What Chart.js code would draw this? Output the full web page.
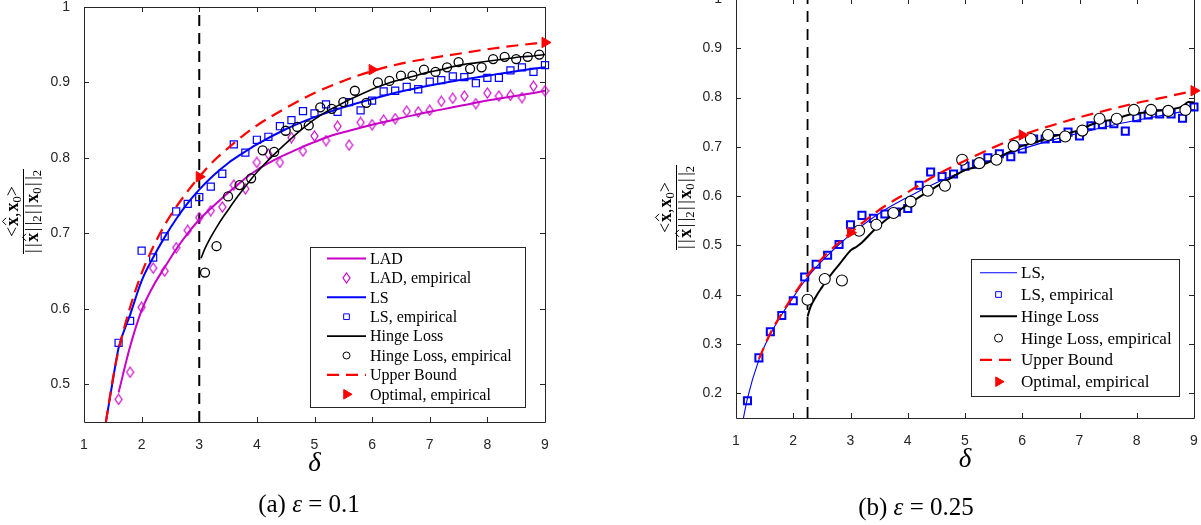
<!DOCTYPE html>
<html>
<head>
<meta charset="utf-8">
<script src="https://cdn.jsdelivr.net/npm/chart.js@4.4.1/dist/chart.umd.min.js"></script>
<style>
  body { margin: 0; background: #fff; width: 1201px; height: 525px; overflow: hidden; position: relative; }
  .panel { position: absolute; }
</style>
</head>
<body>
<div class="panel" style="left:0; top:0;"><canvas id="chartA" width="600" height="525"></canvas></div>
<div class="panel" style="left:600px; top:-20px;"><canvas id="chartB" width="601" height="545"></canvas></div>
<script>
// ---------- panel (a): eps = 0.1 ----------
const deltaGridA = [1.6, 1.8, 2.0, 2.2, 2.4, 2.6, 2.8, 3.0, 3.2, 3.4, 3.6, 3.8, 4.0, 4.2, 4.4, 4.6, 4.8, 5.0, 5.2, 5.4,
  5.6, 5.8, 6.0, 6.2, 6.4, 6.6, 6.8, 7.0, 7.2, 7.4, 7.6, 7.8, 8.0, 8.2, 8.4, 8.6, 8.8, 9.0];
const ladEmpiricalA = [0.480, 0.516, 0.602, 0.654, 0.650, 0.681, 0.704, 0.721, 0.730, 0.735, 0.764, 0.759, 0.794, 0.805,
  0.794, 0.827, 0.809, 0.829, 0.823, 0.842, 0.817, 0.847, 0.844, 0.850, 0.852, 0.862, 0.861, 0.863, 0.875, 0.879,
  0.882, 0.872, 0.886, 0.882, 0.883, 0.880, 0.895, 0.889];
const lsEmpiricalA = [0.555, 0.584, 0.677, 0.668, 0.696, 0.729, 0.739, 0.748, 0.762, 0.779, 0.818, 0.807, 0.824, 0.828,
  0.842, 0.850, 0.862, 0.859, 0.871, 0.861, 0.874, 0.863, 0.876, 0.888, 0.889, 0.894, 0.891, 0.901, 0.903, 0.908,
  0.907, 0.899, 0.906, 0.906, 0.916, 0.920, 0.914, 0.923];
const deltaHingeGridA = [3.1, 3.3, 3.5, 3.7, 3.9, 4.1, 4.3, 4.5, 4.7, 4.9, 5.1, 5.3, 5.5, 5.7, 5.9, 6.1, 6.3, 6.5, 6.7,
  6.9, 7.1, 7.3, 7.5, 7.7, 7.9, 8.1, 8.3, 8.5, 8.7, 8.9];
const hingeEmpiricalA = [0.648, 0.683, 0.749, 0.764, 0.773, 0.810, 0.808, 0.836, 0.841, 0.843, 0.867, 0.865, 0.874,
  0.889, 0.873, 0.900, 0.902, 0.909, 0.909, 0.917, 0.914, 0.920, 0.927, 0.918, 0.920, 0.931, 0.934, 0.931, 0.934, 0.937];
const deltaOptimalA = [3, 6, 9];
const optimalEmpiricalA = [0.775, 0.917, 0.953];

const deltaLadA = [1.6, 1.8, 2.0, 2.2, 2.4, 2.6, 2.8, 3.0, 3.2, 3.4, 3.6, 3.8, 4.0, 4.2, 4.4, 4.6, 4.8, 5.0, 5.2, 5.4,
  5.6, 5.8, 6.0, 6.4, 6.8, 7.2, 7.6, 8.0, 8.4, 8.8, 9.0];
const ladA = [0.489, 0.550, 0.598, 0.630, 0.655, 0.679, 0.700, 0.718, 0.733, 0.747, 0.760, 0.773, 0.784, 0.793, 0.801,
  0.808, 0.815, 0.821, 0.827, 0.832, 0.836, 0.840, 0.844, 0.851, 0.858, 0.864, 0.870, 0.876, 0.881, 0.886, 0.889];
const deltaLsA = [1.38, 1.5, 1.6, 1.8, 2.0, 2.2, 2.4, 2.6, 2.8, 3.0, 3.25, 3.5, 3.75, 4.0, 4.5, 5.0, 5.5, 6.0, 6.5, 7.0,
  7.5, 8.0, 8.5, 9.0];
const lsA = [0.450, 0.505, 0.548, 0.592, 0.637, 0.668, 0.695, 0.719, 0.740, 0.758, 0.777, 0.793, 0.806, 0.818, 0.838,
  0.854, 0.867, 0.878, 0.888, 0.896, 0.903, 0.909, 0.915, 0.920];
const deltaHingeA = [3.03, 3.1, 3.2, 3.3, 3.4, 3.5, 3.6, 3.8, 4.0, 4.2, 4.4, 4.6, 4.8, 5.0, 5.2, 5.4, 5.6, 5.8, 6.0, 6.2,
  6.4, 6.6, 6.8, 7.0, 7.2, 7.4, 7.6, 7.8, 8.0, 8.2, 8.4, 8.6, 8.8, 9.0];
const hingeA = [0.667, 0.680, 0.695, 0.708, 0.720, 0.731, 0.742, 0.762, 0.781, 0.797, 0.812, 0.826, 0.839, 0.851, 0.861,
  0.869, 0.877, 0.884, 0.891, 0.897, 0.902, 0.906, 0.910, 0.914, 0.917, 0.921, 0.924, 0.926, 0.928, 0.930, 0.932,
  0.934, 0.935, 0.937];
const deltaBoundA = [1.38, 1.5, 1.6, 1.8, 2.0, 2.2, 2.4, 2.6, 2.8, 3.0, 3.25, 3.5, 3.75, 4.0, 4.5, 5.0, 5.5, 6.0, 6.5,
  7.0, 7.5, 8.0, 8.5, 9.0];
const boundA = [0.450, 0.507, 0.545, 0.602, 0.647, 0.682, 0.711, 0.735, 0.756, 0.775, 0.796, 0.813, 0.829, 0.843, 0.866,
  0.886, 0.902, 0.915, 0.925, 0.932, 0.938, 0.944, 0.949, 0.953];
const thresholdA = 3;

// ---------- panel (b): eps = 0.25 ----------
const deltaGridB = [1.2, 1.4, 1.6, 1.8, 2.0, 2.2, 2.4, 2.6, 2.8, 3.0, 3.2, 3.4, 3.6, 3.8, 4.0, 4.2, 4.4, 4.6, 4.8, 5.0,
  5.2, 5.4, 5.6, 5.8, 6.0, 6.2, 6.4, 6.6, 6.8, 7.0, 7.2, 7.4, 7.6, 7.8, 8.0, 8.2, 8.4, 8.6, 8.8, 9.0];
const lsEmpiricalB = [0.185, 0.272, 0.325, 0.358, 0.388, 0.436, 0.462, 0.480, 0.502, 0.542, 0.561, 0.555, 0.564, 0.568,
  0.575, 0.622, 0.649, 0.640, 0.645, 0.661, 0.665, 0.678, 0.686, 0.680, 0.696, 0.716, 0.716, 0.717, 0.730, 0.722,
  0.743, 0.745, 0.747, 0.732, 0.759, 0.765, 0.767, 0.767, 0.758, 0.781];
const deltaHingeGridB = [2.25, 2.55, 2.85, 3.15, 3.45, 3.75, 4.05, 4.35, 4.65, 4.95, 5.25, 5.55, 5.85, 6.15, 6.45,
  6.75, 7.05, 7.35, 7.65, 7.95, 8.25, 8.55, 8.85];
const hingeEmpiricalB = [0.390, 0.432, 0.429, 0.530, 0.542, 0.566, 0.589, 0.611, 0.621, 0.674, 0.667, 0.674, 0.702,
  0.716, 0.724, 0.721, 0.733, 0.757, 0.757, 0.775, 0.775, 0.773, 0.775];
const deltaOptimalB = [3, 6, 9];
const optimalEmpiricalB = [0.526, 0.724, 0.814];

const deltaLsB = [1.13, 1.2, 1.4, 1.6, 1.8, 2.0, 2.2, 2.4, 2.6, 2.8, 3.0, 3.5, 4.0, 4.5, 5.0, 5.5, 6.0, 6.5, 7.0, 7.5,
  8.0, 8.5, 9.0];
const lsB = [0.150, 0.190, 0.268, 0.320, 0.360, 0.395, 0.428, 0.456, 0.480, 0.502, 0.522, 0.565, 0.598, 0.627, 0.652,
  0.674, 0.696, 0.713, 0.728, 0.742, 0.754, 0.765, 0.776];
const deltaHingeB = [2.25, 2.3, 2.4, 2.5, 2.6, 2.7, 2.8, 2.9, 3.0, 3.1, 3.2, 3.4, 3.6, 3.8, 4.0, 4.2, 4.4, 4.6, 4.8,
  5.0, 5.2, 5.4, 5.6, 5.8, 6.0, 6.2, 6.4, 6.6, 6.8, 7.0, 7.2, 7.4, 7.6, 7.8, 8.0, 8.2, 8.4, 8.6, 8.8, 8.9, 9.0];
const hingeB = [0.356, 0.375, 0.397, 0.415, 0.432, 0.447, 0.461, 0.476, 0.490, 0.497, 0.506, 0.530, 0.550, 0.567,
  0.583, 0.598, 0.612, 0.627, 0.640, 0.653, 0.659, 0.668, 0.680, 0.691, 0.702, 0.708, 0.716, 0.723, 0.728, 0.734,
  0.745, 0.752, 0.755, 0.763, 0.768, 0.770, 0.774, 0.776, 0.782, 0.791, 0.790];
const deltaBoundB = [1.4, 1.6, 1.8, 2.0, 2.2, 2.4, 2.6, 2.8, 3.0, 3.5, 4.0, 4.5, 5.0, 5.5, 6.0, 6.5, 7.0, 7.5, 8.0,
  8.5, 9.0];
const boundB = [0.270, 0.322, 0.362, 0.398, 0.432, 0.460, 0.485, 0.506, 0.526, 0.572, 0.608, 0.643, 0.672, 0.699,
  0.724, 0.743, 0.760, 0.775, 0.789, 0.801, 0.814];
const thresholdB = 2.25;

// axes
const xRange = [1, 9];
const xTicks = [1, 2, 3, 4, 5, 6, 7, 8, 9];
const yRangeA = [0.45, 1];
const yTicksA = [0.5, 0.6, 0.7, 0.8, 0.9, 1];
const yRangeB = [0.15, 1];
const yTicksB = [0.2, 0.3, 0.4, 0.5, 0.6, 0.7, 0.8, 0.9, 1];

const MAGENTA = '#c800c8';
const BLUE = '#0000ff';
const RED = '#ff0000';
const AXIS = '#262626';
const SERIF = '"Liberation Serif", "DejaVu Serif", serif';
const SANS = '"Liberation Sans", Arial, sans-serif';

const pts = (xs, ys) => xs.map((x, i) => ({ x: x, y: ys[i] }));

// MATLAB-style diamond (taller than wide)
function diamondMarker(color, w, h, lw) {
  const c = document.createElement('canvas');
  c.width = w + 2; c.height = h + 2;
  const g = c.getContext('2d');
  g.strokeStyle = color; g.lineWidth = lw;
  g.beginPath();
  g.moveTo(c.width / 2, 1); g.lineTo(c.width - 1, c.height / 2);
  g.lineTo(c.width / 2, c.height - 1); g.lineTo(1, c.height / 2);
  g.closePath(); g.stroke();
  return c;
}

function curve(label, xs, ys, color, width, dash) {
  return {
    label: label, data: pts(xs, ys), showLine: true, pointRadius: 0,
    borderColor: color, borderWidth: width, borderDash: dash || [],
    cubicInterpolationMode: 'monotone', fill: false, legendKind: 'line'
  };
}

function markers(label, xs, ys, style, color, fill, radius, width, rotation) {
  return {
    label: label, data: pts(xs, ys), showLine: false,
    pointStyle: style, pointRadius: radius, pointRotation: rotation || 0,
    pointBorderColor: color, pointBackgroundColor: fill, pointBorderWidth: width,
    borderColor: color, backgroundColor: fill, clip: false, legendKind: 'marker'
  };
}

function threshold(x, yRange, width) {
  return {
    data: [{ x: x, y: yRange[0] }, { x: x, y: yRange[1] }], showLine: true, pointRadius: 0,
    borderColor: '#000', borderWidth: width, borderDash: [11, 7]
  };
}

// box with inward ticks on all four sides
const matlabFrame = {
  id: 'matlabFrame',
  beforeDatasetsDraw(chart) {
    const { ctx, chartArea: a, scales: { x, y } } = chart;
    const len = 5;
    ctx.save();
    ctx.strokeStyle = AXIS;
    ctx.lineWidth = 1;
    ctx.beginPath();
    ctx.rect(Math.round(a.left) + 0.5, Math.round(a.top) + 0.5, Math.round(a.right - a.left), Math.round(a.bottom - a.top));
    x.ticks.forEach(t => {
      const px = Math.round(x.getPixelForValue(t.value)) + 0.5;
      ctx.moveTo(px, a.bottom); ctx.lineTo(px, a.bottom - len);
      ctx.moveTo(px, a.top); ctx.lineTo(px, a.top + len);
    });
    y.ticks.forEach(t => {
      const py = Math.round(y.getPixelForValue(t.value)) + 0.5;
      ctx.moveTo(a.left, py); ctx.lineTo(a.left + len, py);
      ctx.moveTo(a.right, py); ctx.lineTo(a.right - len, py);
    });
    ctx.stroke();
    ctx.restore();
  }
};

// text made of runs with different fonts (sub/superscripts, bold vectors, hats)
function runsWidth(ctx, runs) {
  let w = 0;
  runs.forEach(r => { ctx.font = r.font; w += ctx.measureText(r.text).width + (r.gap || 0); });
  return w;
}
function drawRuns(ctx, runs, x0, baseline) {
  let x = x0;
  runs.forEach(r => {
    ctx.font = r.font;
    const w = ctx.measureText(r.text).width;
    ctx.fillText(r.text, x, baseline + (r.dy || 0));
    if (r.hat) {
      const cx = x + w / 2;
      ctx.save();
      ctx.lineWidth = 1;
      ctx.beginPath();
      ctx.moveTo(cx - 3.5, baseline - 12); ctx.lineTo(cx, baseline - 15.5); ctx.lineTo(cx + 3.5, baseline - 12);
      ctx.stroke();
      ctx.restore();
    }
    x += w + (r.gap || 0);
  });
}

const fracFont = '18px ' + SERIF;
const fracBold = 'bold 18px ' + SERIF;
const fracSub = '12.5px ' + SERIF;
const numeratorRuns = [
  { text: '<', font: fracFont, gap: 1 }, { text: 'x', font: fracBold, hat: true },
  { text: ',', font: fracFont, gap: 1 }, { text: 'x', font: fracBold },
  { text: '0', font: fracSub, dy: 3 }, { text: '>', font: fracFont }
];
const denominatorRuns = [
  { text: '|', font: fracFont, gap: 2.5 }, { text: '|', font: fracFont, gap: 1.5 }, { text: 'x', font: fracBold, hat: true, gap: 1.5 },
  { text: '|', font: fracFont, gap: 2.5 }, { text: '|', font: fracFont }, { text: '2', font: fracSub, dy: 3, gap: 1.5 },
  { text: '|', font: fracFont, gap: 2.5 }, { text: '|', font: fracFont, gap: 1.5 }, { text: 'x', font: fracBold },
  { text: '0', font: fracSub, dy: 3, gap: 1.5 }, { text: '|', font: fracFont, gap: 2.5 }, { text: '|', font: fracFont },
  { text: '2', font: fracSub, dy: 3 }
];

const figureText = {
  id: 'figureText',
  afterDraw(chart, args, opts) {
    const ctx = chart.ctx;
    const a = chart.chartArea;
    ctx.save();
    ctx.fillStyle = '#000';
    ctx.strokeStyle = '#000';
    ctx.textBaseline = 'alphabetic';
    ctx.textAlign = 'left';

    // rotated fraction as the y-axis title
    const lx = a.left - opts.yTitleOffset;
    const ly = (a.top + a.bottom) / 2 + opts.yTitleShift;
    ctx.save();
    ctx.translate(lx, ly);
    ctx.rotate(-Math.PI / 2);
    const nw = runsWidth(ctx, numeratorRuns);
    const dw = runsWidth(ctx, denominatorRuns);
    drawRuns(ctx, numeratorRuns, -nw / 2, -5);
    drawRuns(ctx, denominatorRuns, -dw / 2, 15);
    ctx.lineWidth = 1;
    ctx.beginPath();
    ctx.moveTo(-dw / 2 - 1, 0.5); ctx.lineTo(dw / 2 + 1, 0.5);
    ctx.stroke();
    ctx.restore();

    // sub-figure caption
    const cf = '25px ' + SERIF;
    const captionRuns = [
      { text: opts.captionTag + ' ', font: cf }, { text: 'ε', font: 'italic ' + cf },
      { text: ' = ' + opts.captionValue, font: cf }
    ];
    const cw = runsWidth(ctx, captionRuns);
    drawRuns(ctx, captionRuns, opts.captionX - cw / 2, opts.captionY);

    // legend box inside the axes
    const L = opts.legend;
    ctx.fillStyle = '#fff';
    ctx.fillRect(L.x0, L.y0, L.x1 - L.x0, L.y1 - L.y0);
    ctx.strokeStyle = AXIS;
    ctx.lineWidth = 1;
    ctx.strokeRect(L.x0 + 0.5, L.y0 + 0.5, L.x1 - L.x0, L.y1 - L.y0);
    const items = chart.data.datasets.filter(d => d.label);
    items.forEach((d, i) => {
      const ry = L.row0 + i * L.step;
      if (d.legendKind === 'line') {
        ctx.save();
        ctx.strokeStyle = d.borderColor;
        ctx.lineWidth = d.borderWidth;
        ctx.setLineDash(d.borderDash || []);
        ctx.beginPath();
        ctx.moveTo(L.lineX0, ry); ctx.lineTo(L.lineX1, ry);
        ctx.stroke();
        ctx.restore();
      } else {
        ctx.save();
        ctx.strokeStyle = d.pointBorderColor;
        ctx.fillStyle = d.pointBackgroundColor;
        Chart.helpers.drawPoint(ctx, {
          pointStyle: d.pointStyle, rotation: d.pointRotation,
          radius: d.legendRadius || d.pointRadius, borderWidth: d.pointBorderWidth
        }, (L.lineX0 + L.lineX1) / 2, ry);
        ctx.restore();
      }
      ctx.fillStyle = '#000';
      ctx.font = L.fontSize + 'px ' + SERIF;
      ctx.textBaseline = 'middle';
      ctx.fillText(d.label, L.textX, ry + 1);
    });
    ctx.restore();
  }
};

function scalesFor(yRange, yTicks, yWidth) {
  return {
    x: {
      type: 'linear', min: xRange[0], max: xRange[1],
      afterBuildTicks: s => { s.ticks = xTicks.map(v => ({ value: v })); },
      afterFit: s => { s.height = 60; s.paddingLeft = 0; s.paddingRight = 0; },
      grid: { display: false }, border: { display: false },
      ticks: { padding: 7, color: AXIS, maxRotation: 0, autoSkip: false,
        font: { family: SANS, size: 14 }, callback: v => String(v) },
      title: { display: true, text: 'δ', color: '#000', padding: { top: 0, bottom: 2 },
        font: { family: SERIF, style: 'italic', size: 27 } }
    },
    y: {
      type: 'linear', min: yRange[0], max: yRange[1],
      afterBuildTicks: s => { s.ticks = yTicks.map(v => ({ value: v })); },
      afterFit: s => { s.width = yWidth; s.paddingTop = 0; s.paddingBottom = 0; },
      grid: { display: false }, border: { display: false },
      ticks: { padding: 6, color: AXIS, autoSkip: false,
        font: { family: SANS, size: 14 }, callback: v => String(v) }
    }
  };
}

function withOrder(datasets) {
  // later series are painted on top, as in the plotting order
  datasets.forEach((d, i) => { d.order = datasets.length - i; });
  return datasets;
}

Chart.defaults.font.family = SANS;

const datasetsA = withOrder([
  threshold(thresholdA, yRangeA, 2),
  curve('LAD', deltaLadA, ladA, MAGENTA, 2),
  Object.assign(markers('LAD, empirical', deltaGridA, ladEmpiricalA, diamondMarker(MAGENTA, 7, 10, 1.2), MAGENTA, 'rgba(0,0,0,0)', 5, 1.2),
    { legendRadius: 5 }),
  curve('LS', deltaLsA, lsA, BLUE, 2),
  Object.assign(markers('LS, empirical', deltaGridA, lsEmpiricalA, 'rect', BLUE, 'rgba(0,0,0,0)', 5, 1.2), { legendRadius: 4 }),
  curve('Hinge Loss', deltaHingeA, hingeA, '#000', 1.6),
  Object.assign(markers('Hinge Loss, empirical', deltaHingeGridA, hingeEmpiricalA, 'circle', '#000', 'rgba(0,0,0,0)', 4.5, 1.3),
    { legendRadius: 3.5 }),
  curve('Upper Bound', deltaBoundA, boundA, RED, 2.2, [12, 7]),
  Object.assign(markers('Optimal, empirical', deltaOptimalA, optimalEmpiricalA, 'triangle', RED, RED, 6, 1, 90),
    { legendRadius: 5.5 })
]);

const datasetsB = withOrder([
  threshold(thresholdB, yRangeB, 1.8),
  curve('LS,', deltaLsB, lsB, BLUE, 1.1),
  Object.assign(markers('LS, empirical', deltaGridB, lsEmpiricalB, 'rect', BLUE, 'rgba(0,0,0,0)', 5, 2), { legendRadius: 4 }),
  curve('Hinge Loss', deltaHingeB, hingeB, '#000', 2),
  Object.assign(markers('Hinge Loss, empirical', deltaHingeGridB, hingeEmpiricalB, 'circle', '#000', '#fff', 5.5, 1.1),
    { legendRadius: 4 }),
  curve('Upper Bound', deltaBoundB, boundB, RED, 2.2, [12, 7]),
  Object.assign(markers('Optimal, empirical', deltaOptimalB, optimalEmpiricalB, 'triangle', RED, RED, 6, 1, 90),
    { legendRadius: 5.5 })
]);

function makeChart(id, datasets, yRange, yTicks, yWidth, padding, text) {
  return new Chart(document.getElementById(id), {
    type: 'scatter',
    data: { datasets: datasets },
    options: {
      responsive: false, animation: false, devicePixelRatio: 1, events: [],
      layout: { padding: padding },
      scales: scalesFor(yRange, yTicks, yWidth),
      plugins: { legend: { display: false }, tooltip: { enabled: false }, figureText: text }
    },
    plugins: [matlabFrame, figureText]
  });
}

makeChart('chartA', datasetsA, yRangeA, yTicksA, 84, { left: 0, right: 55, top: 5, bottom: 43 }, {
  yTitleOffset: 61, yTitleShift: -3,
  captionTag: '(a)', captionValue: '0.1', captionX: 309, captionY: 512,
  legend: { x0: 310, y0: 247, x1: 525, y1: 407, lineX0: 327, lineX1: 366, textX: 370,
    row0: 258.5, step: 19.4, fontSize: 16 }
});

makeChart('chartB', datasetsB, yRangeB, yTicksB, 136, { left: 0, right: 7, top: 19, bottom: 47 }, {
  yTitleOffset: 60, yTitleShift: -1,
  captionTag: '(b)', captionValue: '0.25', captionX: 316, captionY: 535,
  legend: { x0: 371, y0: 279, x1: 579, y1: 416, lineX0: 380, lineX1: 417, textX: 421,
    row0: 292.7, step: 21.8, fontSize: 17 }
});
</script>
</body>
</html>
